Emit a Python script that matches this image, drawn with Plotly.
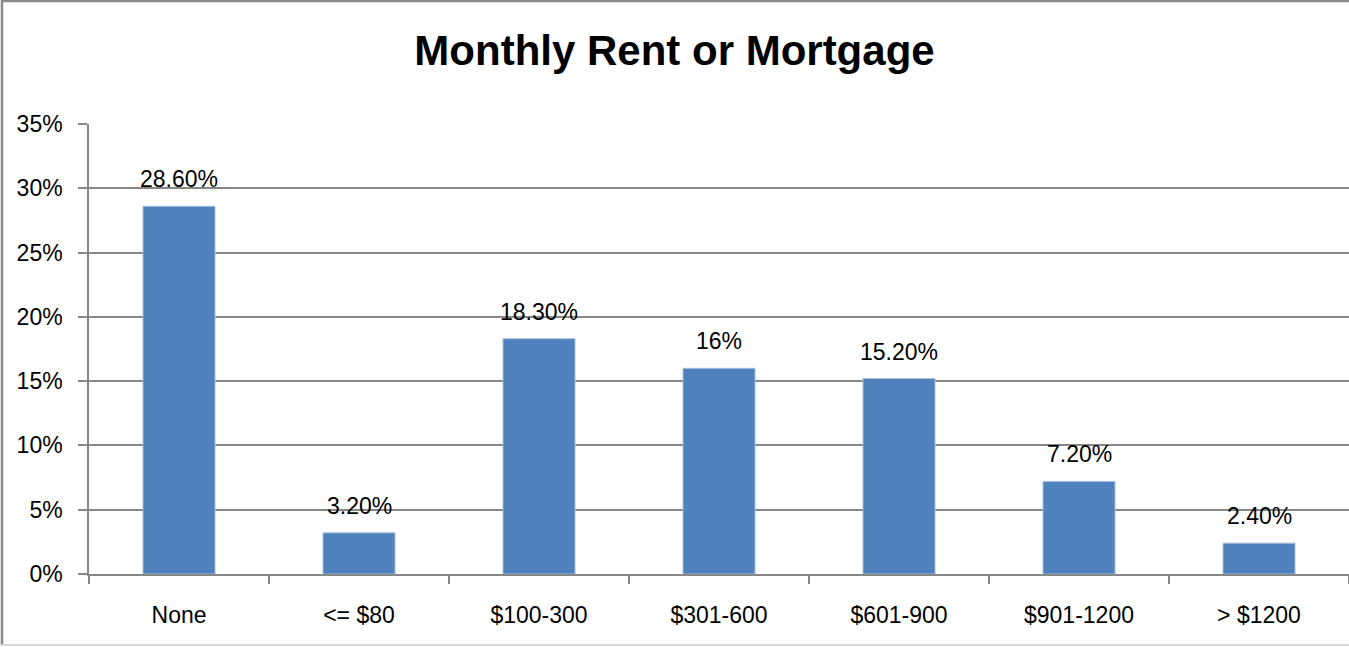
import plotly.graph_objects as go

categories = ["None", "<= $80", "$100-300", "$301-600", "$601-900", "$901-1200", "> $1200"]
values = [28.6, 3.2, 18.3, 16.0, 15.2, 7.2, 2.4]  # percent
y_ticks = [0, 5, 10, 15, 20, 25, 30, 35]

def fmt(v):
    return f"{v:g}%" if float(v).is_integer() else f"{v:.2f}%"

W, H = 1349, 647
L, R, T, B = 89, 1349, 124, 574
FONT = "Liberation Sans, Arial, sans-serif"
GRID = "#878787"

def px_x(p):
    return (p - L) / (R - L)

def px_y(p):
    return (B - p) / (B - T)

fig = go.Figure()
fig.add_trace(go.Bar(
    x=categories, y=values,
    marker=dict(color="#4f81bd", line=dict(color="#a7bfde", width=1)),
    hoverinfo="skip",
))

annotations = []
for c, v in zip(categories, values):
    annotations.append(dict(
        x=c, y=v, xref="x", yref="y", text=fmt(v), showarrow=False,
        yanchor="bottom", yshift=12,
        font=dict(family=FONT, size=23, color="#000000"),
    ))

shapes = [
    dict(type="line", xref="paper", yref="paper",
         x0=px_x(2), x1=px_x(2), y0=px_y(0), y1=px_y(646),
         line=dict(color="#8a8a8a", width=2.5), layer="above"),
    dict(type="line", xref="paper", yref="paper",
         x0=px_x(1), x1=px_x(1360), y0=px_y(1), y1=px_y(1),
         line=dict(color="#8a8a8a", width=2.5), layer="above"),
    dict(type="line", xref="paper", yref="paper",
         x0=px_x(1), x1=px_x(1360), y0=px_y(645), y1=px_y(645),
         line=dict(color="#d9d9d9", width=2), layer="above"),
]

fig.update_layout(
    width=W, height=H,
    margin=dict(l=L, r=W - R, t=T, b=H - B, pad=0),
    paper_bgcolor="white", plot_bgcolor="white",
    bargap=0.6,
    showlegend=False,
    title=dict(
        text="<b>Monthly Rent or Mortgage</b>",
        font=dict(family=FONT, size=42, color="#000000"),
        x=0.5, xref="container", xanchor="center",
        y=1 - 50 / H, yref="container", yanchor="middle",
    ),
    font=dict(family=FONT, size=23, color="#000000"),
    xaxis=dict(
        showline=True, linecolor=GRID, linewidth=1.5,
        ticks="outside", tickson="boundaries", ticklen=8, tickcolor=GRID, tickwidth=1.5,
        showgrid=False, tickfont=dict(family=FONT, size=23, color="#000000"),
        ticklabelstandoff=20,
    ),
    yaxis=dict(
        range=[0, 35], tickvals=y_ticks, ticktext=[f"{t}%" for t in y_ticks],
        showline=True, linecolor=GRID, linewidth=1.5,
        ticks="outside", ticklen=9, tickcolor=GRID, tickwidth=1.5,
        showgrid=True, gridcolor=GRID, gridwidth=1.5, zeroline=False,
        tickfont=dict(family=FONT, size=23, color="#000000"),
        ticklabelstandoff=11,
    ),
    annotations=annotations,
    shapes=shapes,
)

fig.write_html(
    "out.html",
    config={"displayModeBar": False},
    post_script="document.body.style.margin='0';document.body.style.overflow='hidden';",
)
